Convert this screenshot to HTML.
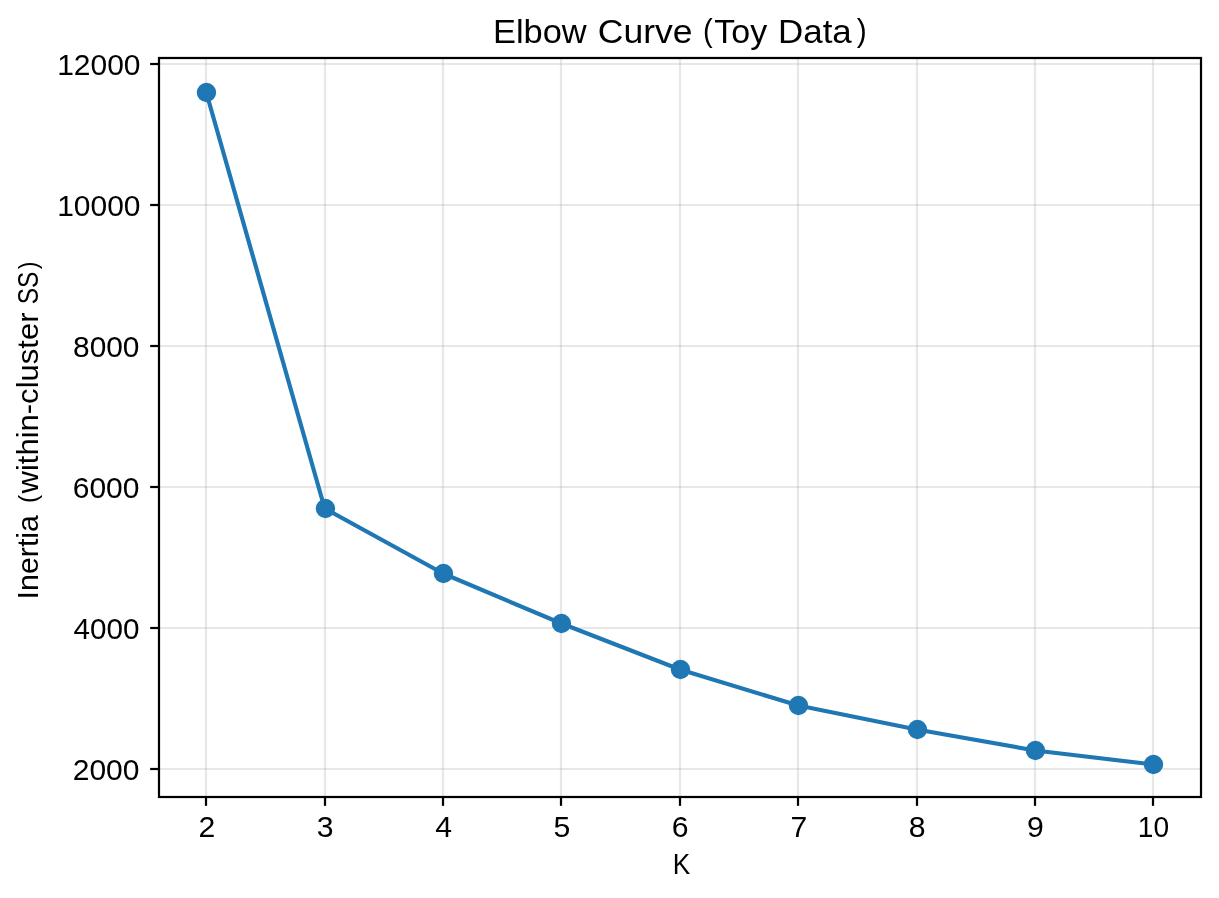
<!DOCTYPE html>
<html><head><meta charset="utf-8"><title>Elbow Curve</title>
<style>html,body{margin:0;padding:0;background:#fff;}svg{display:block;will-change:transform;}text{font-family:"Liberation Sans",sans-serif;fill:#000;}</style></head><body>
<svg width="1219" height="898" viewBox="0 0 1219 898">
<rect x="0" y="0" width="1219" height="898" fill="#ffffff"/>
<g stroke="#b0b0b0" stroke-opacity="0.3" stroke-width="2.22" fill="none">
<line x1="206.00" y1="58.0" x2="206.00" y2="797.0"/>
<line x1="325.00" y1="58.0" x2="325.00" y2="797.0"/>
<line x1="443.00" y1="58.0" x2="443.00" y2="797.0"/>
<line x1="561.00" y1="58.0" x2="561.00" y2="797.0"/>
<line x1="680.00" y1="58.0" x2="680.00" y2="797.0"/>
<line x1="798.00" y1="58.0" x2="798.00" y2="797.0"/>
<line x1="917.00" y1="58.0" x2="917.00" y2="797.0"/>
<line x1="1035.00" y1="58.0" x2="1035.00" y2="797.0"/>
<line x1="1153.00" y1="58.0" x2="1153.00" y2="797.0"/>
<line x1="159.0" y1="64.00" x2="1201.0" y2="64.00"/>
<line x1="159.0" y1="205.00" x2="1201.0" y2="205.00"/>
<line x1="159.0" y1="346.00" x2="1201.0" y2="346.00"/>
<line x1="159.0" y1="487.00" x2="1201.0" y2="487.00"/>
<line x1="159.0" y1="628.00" x2="1201.0" y2="628.00"/>
<line x1="159.0" y1="769.00" x2="1201.0" y2="769.00"/>
</g>
<polyline fill="none" stroke="#1f77b4" stroke-width="4.17" stroke-linejoin="round" stroke-linecap="butt" points="206.3,92.5 324.7,508.5 443.1,573.5 561.5,623.5 679.9,669.5 798.3,705.5 916.7,729.5 1035.1,750.5 1153.5,764.5"/>
<g fill="#1f77b4" stroke="#1f77b4" stroke-width="2.78">
<circle cx="206.45" cy="92.50" r="8.33"/>
<circle cx="325.45" cy="508.50" r="8.33"/>
<circle cx="443.45" cy="573.50" r="8.33"/>
<circle cx="561.45" cy="623.50" r="8.33"/>
<circle cx="680.45" cy="669.50" r="8.33"/>
<circle cx="798.45" cy="705.50" r="8.33"/>
<circle cx="917.45" cy="729.50" r="8.33"/>
<circle cx="1035.45" cy="750.50" r="8.33"/>
<circle cx="1153.45" cy="764.50" r="8.33"/>
</g>
<g stroke="#000" stroke-width="2.22">
<line x1="206.00" y1="797.0" x2="206.00" y2="805.85"/>
<line x1="325.00" y1="797.0" x2="325.00" y2="805.85"/>
<line x1="443.00" y1="797.0" x2="443.00" y2="805.85"/>
<line x1="561.00" y1="797.0" x2="561.00" y2="805.85"/>
<line x1="680.00" y1="797.0" x2="680.00" y2="805.85"/>
<line x1="798.00" y1="797.0" x2="798.00" y2="805.85"/>
<line x1="917.00" y1="797.0" x2="917.00" y2="805.85"/>
<line x1="1035.00" y1="797.0" x2="1035.00" y2="805.85"/>
<line x1="1153.00" y1="797.0" x2="1153.00" y2="805.85"/>
<line x1="150.15" y1="64.00" x2="159.0" y2="64.00"/>
<line x1="150.15" y1="205.00" x2="159.0" y2="205.00"/>
<line x1="150.15" y1="346.00" x2="159.0" y2="346.00"/>
<line x1="150.15" y1="487.00" x2="159.0" y2="487.00"/>
<line x1="150.15" y1="628.00" x2="159.0" y2="628.00"/>
<line x1="150.15" y1="769.00" x2="159.0" y2="769.00"/>
</g>
<rect x="159.0" y="58.0" width="1042.00" height="739.00" fill="none" stroke="#000" stroke-width="2.22" stroke-linejoin="miter"/>
<text transform="translate(492.90,43.00) scale(1.0168,1)" font-size="33.9">Elbow</text>
<text transform="translate(597.87,43.00) scale(1.0476,1)" font-size="33.9">Curve</text>
<text transform="translate(703.10,41.10) scale(0.9500,1)" font-size="30.7">(</text>
<text transform="translate(714.25,43.00) scale(1.0029,1)" font-size="33.9">Toy</text>
<text transform="translate(778.07,43.00) scale(1.0298,1)" font-size="33.9">Data</text>
<text transform="translate(856.66,41.10) scale(0.9750,1)" font-size="30.7">)</text>
<text transform="translate(57.20,75.00) scale(1.0231,1)" font-size="29.3">12000</text>
<text transform="translate(57.20,216.00) scale(1.0231,1)" font-size="29.3">10000</text>
<text transform="translate(73.03,357.00) scale(1.0199,1)" font-size="29.3">8000</text>
<text transform="translate(72.76,498.00) scale(1.0240,1)" font-size="29.3">6000</text>
<text transform="translate(73.54,639.00) scale(1.0119,1)" font-size="29.3">4000</text>
<text transform="translate(72.76,780.00) scale(1.0240,1)" font-size="29.3">2000</text>
<text transform="translate(198.38,836.70) scale(1.0300,1)" font-size="29.3">2</text>
<text transform="translate(316.78,836.70) scale(1.0300,1)" font-size="29.3">3</text>
<text transform="translate(435.18,836.70) scale(1.0300,1)" font-size="29.3">4</text>
<text transform="translate(553.58,836.70) scale(1.0300,1)" font-size="29.3">5</text>
<text transform="translate(671.85,836.70) scale(1.0300,1)" font-size="29.3">6</text>
<text transform="translate(790.38,836.70) scale(1.0300,1)" font-size="29.3">7</text>
<text transform="translate(908.78,836.70) scale(1.0300,1)" font-size="29.3">8</text>
<text transform="translate(1027.05,836.70) scale(1.0300,1)" font-size="29.3">9</text>
<text transform="translate(1137.74,836.70) scale(0.9607,1)" font-size="29.3">10</text>
<text transform="translate(672.65,873.80) scale(0.9091,1)" font-size="28.9">K</text>
<text transform="translate(38.00,599.40) rotate(-90) scale(1.0188,1)" font-size="29.8">Inertia</text>
<text transform="translate(36.50,503.02) rotate(-90) scale(0.9481,1)" font-size="25.6">(</text>
<text transform="translate(38.00,493.50) rotate(-90) scale(1.0413,1)" font-size="29.8">within-cluster</text>
<text transform="translate(38.00,304.23) rotate(-90) scale(0.8218,1)" font-size="29.8">SS</text>
<text transform="translate(36.50,269.23) rotate(-90) scale(0.9185,1)" font-size="25.6">)</text>
</svg></body></html>
